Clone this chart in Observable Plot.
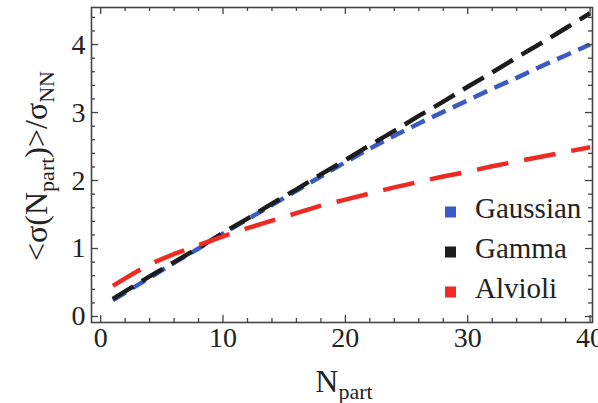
<!DOCTYPE html>
<html><head><meta charset="utf-8">
<script src="https://cdn.jsdelivr.net/npm/d3@7"></script>
<script src="https://cdn.jsdelivr.net/npm/@observablehq/plot@0.6"></script>
<style>body{margin:0;background:#fff}</style>
</head><body><div id="chart"></div>
<script>
// ---- data ----
const npart    = [1, 2, 4, 6, 8, 10, 12, 14, 16, 18, 20, 22, 24, 26, 28, 30, 32, 34, 36, 38, 40];
const gaussian = [0.24, 0.35, 0.57, 0.79, 1.00, 1.22, 1.43, 1.64, 1.85, 2.06, 2.27, 2.47, 2.66, 2.84, 3.01, 3.18, 3.35, 3.51, 3.68, 3.84, 4.00];
const gamma    = [0.26, 0.37, 0.59, 0.80, 1.01, 1.23, 1.44, 1.66, 1.87, 2.09, 2.30, 2.52, 2.73, 2.95, 3.16, 3.38, 3.59, 3.81, 4.02, 4.24, 4.46];
const alvioli  = [0.45, 0.56, 0.77, 0.92, 1.05, 1.18, 1.30, 1.41, 1.52, 1.63, 1.72, 1.81, 1.90, 1.98, 2.06, 2.13, 2.21, 2.28, 2.35, 2.42, 2.49];
const seriesNames  = ["Gaussian", "Gamma", "Alvioli"];
const seriesColors = ["#3b5bc4", "#1c1c1c", "#ee2a24"];
const seriesDash   = ["15,8", "24,10", "32,16"];
const xTickLabels = [0, 10, 20, 30, 40];
const yTickLabels = [0, 1, 2, 3, 4];

// ---- layout ----
const W = 598, H = 403;
const mL = 91, mR = 6, mT = 7, mB = 81;
const fW = W - mL - mR, fH = H - mT - mB;
const font = "Liberation Serif";
const axisColor = "#444";

const seriesValues = [gaussian, gamma, alvioli];
const rows = seriesNames.flatMap((name, i) => npart.map((x, j) => ({series: name, x, y: seriesValues[i][j]})));

const xMinor = d3.range(0, 40.001, 2).filter(v => !xTickLabels.includes(v));
const yMinor = d3.range(0, 4.41, 0.2).map(v => +v.toFixed(1)).filter(v => !yTickLabels.includes(v));

const lineMarks = seriesNames.map((name, i) =>
  Plot.line(rows.filter(r => r.series === name), {
    x: "x", y: "y", stroke: seriesColors[i], strokeWidth: 4.5,
    strokeDasharray: seriesDash[i], strokeLinecap: "butt"
  })
);

const tk = (data, dir, len, side) => {
  if (dir === "x") {
    const o = {x: d => d, stroke: axisColor, strokeWidth: 1.3};
    if (side === "bottom") o.insetTop = fH - len; else o.insetBottom = fH - len;
    return Plot.tickX(data, o);
  } else {
    const o = {y: d => d, stroke: axisColor, strokeWidth: 1.3};
    if (side === "left") o.insetRight = fW - len; else o.insetLeft = fW - len;
    return Plot.tickY(data, o);
  }
};

const plot = Plot.plot({
  width: W, height: H,
  marginLeft: mL, marginRight: mR, marginTop: mT, marginBottom: mB,
  style: {fontFamily: font, background: "#fff", color: "#222"},
  x: {domain: [-0.75, 40.2]},
  y: {domain: [-0.088, 4.545]},
  marks: [
    ...lineMarks,
    tk(xTickLabels, "x", 7, "bottom"), tk(xMinor, "x", 4, "bottom"),
    tk(xTickLabels, "x", 7, "top"), tk(xMinor, "x", 4, "top"),
    tk(yTickLabels, "y", 7, "left"), tk(yMinor, "y", 4, "left"),
    tk(yTickLabels, "y", 7, "right"), tk(yMinor, "y", 4, "right"),
    Plot.frame({stroke: axisColor, strokeWidth: 1.6}),
    Plot.axisX(xTickLabels, {anchor: "bottom", tickSize: 0, tickPadding: 5, fontSize: 28, label: null, fill: "#222", tickFormat: d => String(d)}),
    Plot.axisY(yTickLabels, {anchor: "left", tickSize: 0, tickPadding: 6, fontSize: 28, label: null, fill: "#222", tickFormat: d => String(d)})
  ]
});
document.getElementById("chart").appendChild(plot);

const svg = d3.select(plot);
// x axis label
const xl = svg.append("text").attr("x", 344).attr("y", 392).attr("text-anchor", "middle")
  .attr("font-family", font).attr("font-size", 32).attr("fill", "#222");
xl.append("tspan").text("N");
xl.append("tspan").attr("dy", 7).attr("font-size", 22).text("part");

// y axis label
const yl = svg.append("text").attr("transform", "translate(47,166) rotate(-90)").attr("text-anchor", "middle")
  .attr("font-family", font).attr("font-size", 32).attr("fill", "#222");
yl.append("tspan").text("<σ(N");
yl.append("tspan").attr("dy", 7).attr("font-size", 22).text("part");
yl.append("tspan").attr("dy", -7).text(")>/σ");
yl.append("tspan").attr("dy", 7).attr("font-size", 22).text("NN");

// legend
const lg = svg.append("g").attr("text-anchor", "start");
seriesNames.forEach((name, i) => {
  const cy = 212 + i * 40;
  lg.append("rect").attr("x", 445).attr("y", cy - 5.5).attr("width", 11).attr("height", 11)
    .attr("fill", seriesColors[i]);
  lg.append("text").attr("x", 475).attr("y", cy + 6).attr("text-anchor", "start").attr("font-family", font)
    .attr("font-size", 29).attr("fill", "#222").text(name);
});
</script>
</body></html>
